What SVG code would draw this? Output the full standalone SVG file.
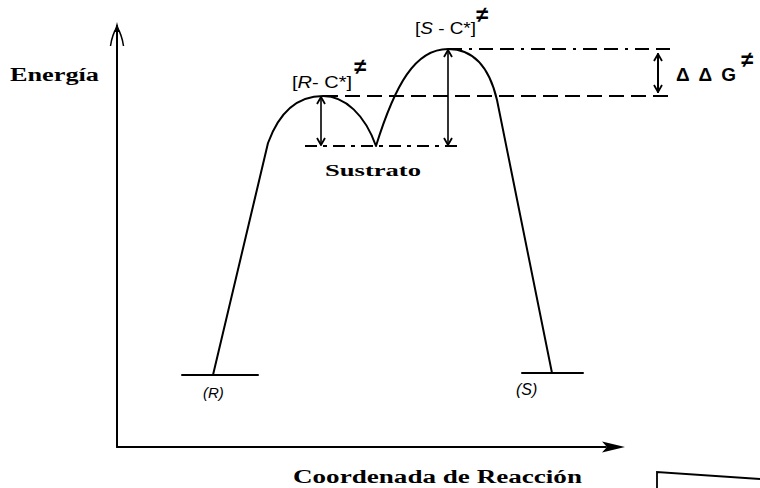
<svg xmlns="http://www.w3.org/2000/svg" width="760" height="488" viewBox="0 0 760 488">
  <style>
    .ln { stroke: #000; stroke-width: 2; fill: none; stroke-linecap: round; stroke-linejoin: round; }
    .thin { stroke: #000; stroke-width: 1.6; fill: none; }
    .dash1 { stroke: #000; stroke-width: 1.8; fill: none; stroke-dasharray: 14 7 3 7 14 7; }
    .dash2 { stroke: #000; stroke-width: 1.8; fill: none; stroke-dasharray: 15 7; }
    .dash3 { stroke: #000; stroke-width: 1.8; fill: none; stroke-dasharray: 12 6 4 6; }
    .bold { font-family: "Liberation Serif", "DejaVu Serif", serif; font-weight: bold; fill: #000; }
    .lbl { font-family: "Liberation Sans", "DejaVu Sans", sans-serif; fill: #000; }
  </style>
  <defs>
    <marker id="vhead" viewBox="0 0 10 10" refX="9" refY="5" markerWidth="10" markerHeight="10" markerUnits="userSpaceOnUse" orient="auto-start-reverse">
      <path d="M2,1 L9,5 L2,9" fill="none" stroke="#000" stroke-width="1.8"/>
    </marker>
  </defs>

  <g id="axes">
    <line class="ln" x1="117" y1="26" x2="117" y2="447"/>
    <path d="M117,22 L114.5,32 L119.5,32 Z" fill="#000"/>
    <path d="M117,27 Q112,35 110.5,46 M117,27 Q122,35 123.5,46" fill="none" stroke="#000" stroke-width="1.5"/>
    <line class="ln" x1="117" y1="447" x2="606" y2="447"/>
    <path d="M602,441.5 L625,447 L602,452.5 L607,447 Z" fill="#000"/>
  </g>

  <g id="energy-profile">
    <path class="ln" d="M213,375 L268,143 C280,110 300,96 323,96 C345,96 365,115 376,146 C395,85 415,49 448,49 C475,49 490,70 497,100 L552,373"/>
  </g>

  <g id="level-R">
    <line class="ln" x1="182" y1="375" x2="258" y2="375"/>
    <text class="lbl" x="203" y="398" font-size="15" font-style="italic" font-family="Liberation Serif, serif">(R)</text>
  </g>

  <g id="level-S">
    <line class="ln" x1="522" y1="373" x2="583" y2="373"/>
    <text class="lbl" x="516" y="395" font-size="16" font-style="italic">(S)</text>
  </g>

  <g id="sustrato">
    <line class="dash3" x1="305" y1="146" x2="462" y2="146"/>
    <text class="bold" x="325" y="176" font-size="16" textLength="96" lengthAdjust="spacingAndGlyphs">Sustrato</text>
  </g>

  <g id="ts-R">
    <line class="dash2" x1="323" y1="96" x2="668" y2="96"/>
    <text class="lbl" x="292" y="88" font-size="17" textLength="60" lengthAdjust="spacingAndGlyphs">[<tspan font-style="italic">R</tspan>- C*]</text>
    <text class="lbl" x="354" y="74" font-size="22" font-weight="bold">≠</text>
  </g>

  <g id="ts-S">
    <line class="dash1" x1="448" y1="49" x2="671" y2="49"/>
    <text class="lbl" x="415" y="34" font-size="17" textLength="61" lengthAdjust="spacingAndGlyphs">[<tspan font-style="italic">S</tspan> - C*]</text>
    <text class="lbl" x="476" y="22" font-size="22" font-weight="bold">≠</text>
  </g>

  <g id="ddg">
    <text class="lbl" x="676" y="81" font-size="19" font-weight="bold" textLength="60" lengthAdjust="spacing">ΔΔG</text>
    <text class="lbl" x="741" y="67" font-size="22" font-weight="bold">≠</text>
  </g>

  <g id="connectors">
    <line class="thin" x1="321" y1="97" x2="321" y2="145" marker-start="url(#vhead)" marker-end="url(#vhead)"/>
    <line class="thin" x1="448" y1="50" x2="448" y2="145" marker-start="url(#vhead)" marker-end="url(#vhead)"/>
    <line class="ln" x1="658" y1="54" x2="658" y2="92" marker-start="url(#vhead)" marker-end="url(#vhead)"/>
  </g>

  <g id="axis-labels">
    <text class="bold" x="10" y="81" font-size="18" textLength="89" lengthAdjust="spacingAndGlyphs">Energía</text>
    <text class="bold" x="293" y="483" font-size="18" textLength="289" lengthAdjust="spacingAndGlyphs">Coordenada de Reacción</text>
  </g>

  <g id="corner-box">
    <path d="M657,488 L657,472 L760,479" fill="none" stroke="#000" stroke-width="1.8"/>
  </g>
</svg>
